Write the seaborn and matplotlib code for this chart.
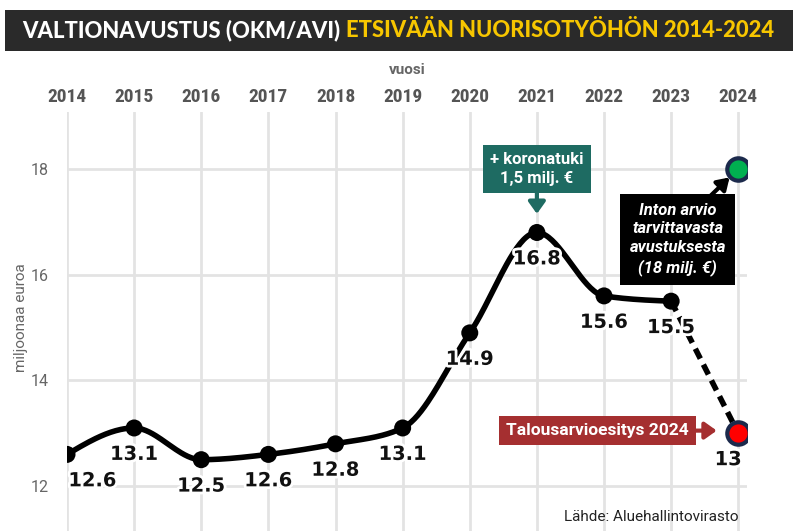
import numpy as np
import pandas as pd
import matplotlib
matplotlib.use("Agg")
import matplotlib.pyplot as plt
import matplotlib.patheffects as pe
import seaborn as sns

years = [2014, 2015, 2016, 2017, 2018, 2019, 2020, 2021, 2022, 2023]
values = [12.6, 13.1, 12.5, 12.6, 12.8, 13.1, 14.9, 16.8, 15.6, 15.5]
budget_year = 2024
budget_value = 13.0
estimate_value = 18.0
tick_years = list(range(2014, 2025))
y_ticks = [12, 14, 16, 18]


def monotone_curve(x, y, n=40):
    # d3 curveMonotoneX style smoothing, only for drawing the line
    x = np.asarray(x, float)
    y = np.asarray(y, float)
    h = np.diff(x)
    s = np.diff(y) / h
    m = np.zeros(len(x))
    for i in range(1, len(x) - 1):
        p = (s[i - 1] * h[i] + s[i] * h[i - 1]) / (h[i - 1] + h[i])
        m[i] = (np.sign(s[i - 1]) + np.sign(s[i])) * min(abs(s[i - 1]), abs(s[i]), 0.5 * abs(p))
    m[0] = (3 * s[0] - m[1]) / 2
    m[-1] = (3 * s[-1] - m[-2]) / 2
    xs, ys = [], []
    for i in range(len(x) - 1):
        t = np.linspace(0, 1, n, endpoint=(i == len(x) - 2))
        h00 = 2 * t**3 - 3 * t**2 + 1
        h10 = t**3 - 2 * t**2 + t
        h01 = -2 * t**3 + 3 * t**2
        h11 = t**3 - t**2
        xs.append(x[i] + t * h[i])
        ys.append(h00 * y[i] + h10 * h[i] * m[i] + h01 * y[i + 1] + h11 * h[i] * m[i + 1])
    return np.concatenate(xs), np.concatenate(ys)


sns.set_style("white")
plt.rcParams["font.family"] = ["Roboto", "DejaVu Sans"]

fig = plt.figure(figsize=(7.93, 5.31), dpi=100)
ax = fig.add_axes([0.0845, 0.0, 0.8575, 0.789])

cx, cy = monotone_curve(years, values)
curve = pd.DataFrame({"x": cx, "y": cy})
sns.lineplot(data=curve, x="x", y="y", ax=ax, color="black", lw=4, sort=False,
             estimator=None, zorder=3)
dash = pd.DataFrame({"x": [years[-1], budget_year], "y": [values[-1], budget_value]})
sns.lineplot(data=dash, x="x", y="y", ax=ax, color="black", lw=4, zorder=3,
             estimator=None, dashes=False, linestyle=(0, (2, 1.2)))

pts = pd.DataFrame({"x": years, "y": values})
sns.scatterplot(data=pts, x="x", y="y", ax=ax, color="black", s=150, edgecolor="none", zorder=4)
sns.scatterplot(x=[budget_year], y=[budget_value], ax=ax, color="#ff0000", s=260,
                edgecolor="#1c2a4c", linewidth=3, zorder=5)
sns.scatterplot(x=[budget_year], y=[estimate_value], ax=ax, color="#00b050", s=260,
                edgecolor="#1c2a4c", linewidth=3, zorder=5)

stroke = [pe.withStroke(linewidth=4, foreground="white")]
for yr, v in zip(years, values):
    dx = 0.38 if yr == 2014 else 0
    ax.text(yr + dx, v - 0.5, f"{v:.1f}", ha="center", va="center", fontsize=14,
            fontweight="bold", family="DejaVu Sans", color="#111111",
            path_effects=stroke, zorder=6)
ax.text(budget_year - 0.15, budget_value - 0.5, f"{budget_value:g}", ha="center",
        va="center", fontsize=14, fontweight="bold", family="DejaVu Sans",
        color="#111111", path_effects=stroke, zorder=6)

ax.set_xlim(2014, 2024.13)
ax.set_ylim(11.15, 19.08)
ax.set_yticks(y_ticks)
ax.set_xticks(tick_years)
ax.xaxis.tick_top()
ax.xaxis.set_label_position("top")
ax.set_xticklabels([str(t) for t in tick_years], fontsize=14, fontweight="bold",
                   color="#555555", family=["Roboto Condensed", "Roboto"])
ax.tick_params(axis="y", labelsize=11.5, labelcolor="#666666", length=0, pad=13)
ax.tick_params(axis="x", length=0, pad=4)
ax.set_xlabel("vuosi", fontsize=11, fontweight="bold", color="#666666")
ax.xaxis.set_label_coords(0.5, 1.09)
ax.set_ylabel("miljoonaa euroa", fontsize=11, color="#666666")
ax.yaxis.set_label_coords(-0.058, 0.51)
ax.grid(True, color="#e3e3e3", lw=2)
for sp in ax.spines.values():
    sp.set_visible(False)

# annotations
ax.annotate("", xy=(2021, 17.1), xytext=(2021, 17.62),
            arrowprops=dict(arrowstyle="-|>,head_width=0.5,head_length=0.7",
                            color="#1e6b62", lw=3), zorder=6)
ax.text(2021, 18.0, "+ koronatuki\n1,5 milj. €", ha="center", va="center",
        fontsize=12, fontweight="bold", color="white", linespacing=1.3,
        bbox=dict(boxstyle="square,pad=0.45", fc="#1e6b62", ec="none"), zorder=7)

ax.annotate("", xy=(2023.9, 17.88), xytext=(2023.55, 17.45),
            arrowprops=dict(arrowstyle="-|>,head_width=0.45,head_length=0.7",
                            color="black", lw=3), zorder=6)
ax.text(2023.1, 16.67, "Inton arvio\ntarvittavasta\navustuksesta\n(18 milj. €)",
        ha="center", va="center", fontsize=12, fontweight="bold", style="italic",
        color="white", linespacing=1.3,
        bbox=dict(boxstyle="square,pad=0.55", fc="black", ec="none"), zorder=7)

ax.annotate("", xy=(2023.72, 13.05), xytext=(2023.3, 13.05),
            arrowprops=dict(arrowstyle="-|>,head_width=0.5,head_length=0.7",
                            color="#a52f30", lw=3), zorder=6)
ax.text(2021.9, 13.05, "Talousarvioesitys 2024", ha="center", va="center",
        fontsize=12.5, fontweight="bold", color="white",
        bbox=dict(boxstyle="square,pad=0.4", fc="#a52f30", ec="none"), zorder=7)

ax.text(2024.0, 11.42, "Lähde: Aluehallintovirasto", ha="right", va="center",
        fontsize=11, color="#222222", zorder=7)

# title bar
fig.patches.append(plt.Rectangle((0.006, 0.904), 0.994, 0.078, transform=fig.transFigure,
                                 fc="#2a2a2a", ec="none"))
fig.canvas.draw()
r = fig.canvas.get_renderer()
t1 = fig.text(0.028, 0.943, "VALTIONAVUSTUS (OKM/AVI)", fontsize=15.8, fontweight="black",
              color="white", va="center", ha="left", family=["Lato", "DejaVu Sans"])
bb = t1.get_window_extent(renderer=r)
x2 = (bb.x1 + 6) / fig.bbox.width
fig.text(x2, 0.943, "ETSIVÄÄN NUORISOTYÖHÖN 2014-2024", fontsize=15.8, fontweight="black",
         color="#f7c600", va="center", ha="left", family=["Lato", "DejaVu Sans"])

fig.savefig("out.png", dpi=100)
